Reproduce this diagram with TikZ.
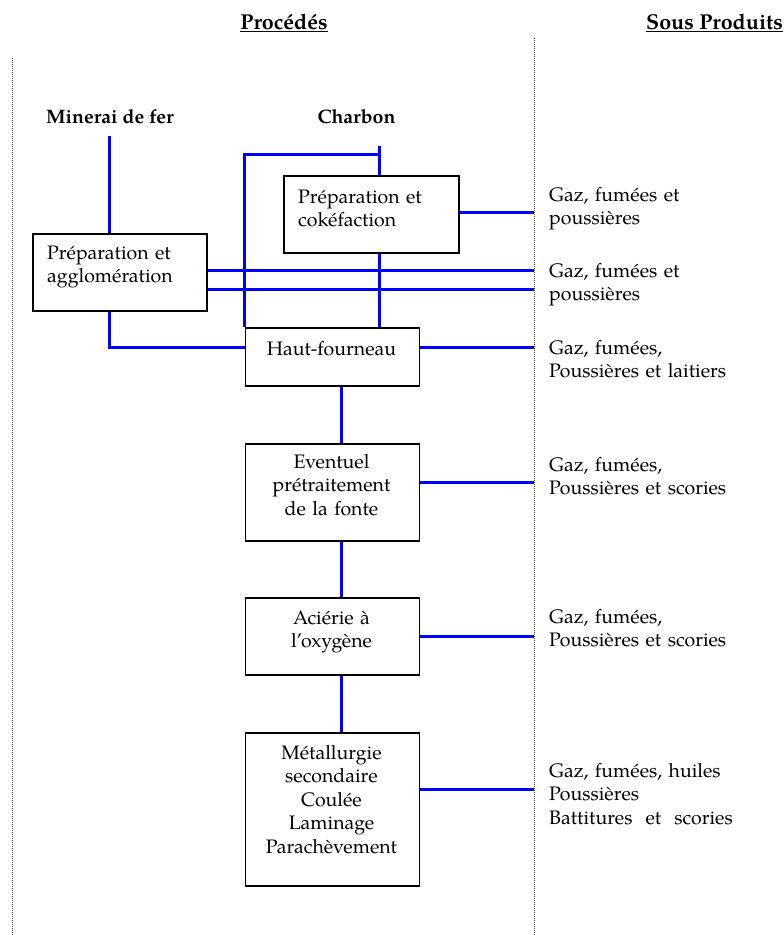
\documentclass[tikz,border=0pt]{standalone}
\usepackage{fontspec}
\setmainfont{TeX Gyre Pagella}
\newcommand\fs{\fontsize{19.5}{23.6}\selectfont}
\newcommand\ft{\fontsize{21.5}{25}\selectfont}
\begin{document}
\begin{tikzpicture}[x=1pt,y=-1pt,
  box/.style={draw=black,line width=1.5pt,anchor=north west,inner sep=0pt},
  link/.style={draw=blue,line width=3pt},
  sep/.style={draw=black!75,line width=0.8pt,dash pattern=on 0.8pt off 1.2pt},
  ctxt/.style={font=\fs,inner sep=0pt,anchor=base,text width=173,align=center},
  ltxt/.style={font=\fs,inner sep=0pt,anchor=base west,text width=150,align=left},
  side/.style={font=\fs,inner sep=0pt,anchor=base west,text width=232,align=left},
  title/.style={font=\ft\bfseries,inner sep=0pt,anchor=base},
  input/.style={font=\fs\bfseries,inner sep=0pt,anchor=base}]
\useasboundingbox (0,0) rectangle (784,935);
% titles
\node[title] (t1) at (284,29) {\underline{Procédés}};
\node[title] (t2) at (714.5,29) {\underline{Sous Produits}};
% separators
\coordinate (l1) at (12,58); \coordinate (l2) at (12,935);
\coordinate (s1) at (534,38); \coordinate (s2) at (534,935);
\draw[sep] (l1) -- (l2);
\draw[sep] (s1) -- (s2);
% inputs
\node[input] (minerai) at (110,123) {Minerai de fer};
\node[input] (charbon) at (356.5,123) {Charbon};
% boxes
\node[box,minimum width=174,minimum height=77] (agglo) at (32,233) {};
\node[box,minimum width=175,minimum height=77] (coke) at (283,175) {};
\node[box,minimum width=174,minimum height=58] (haut) at (244.5,327) {};
\node[box,minimum width=174,minimum height=97] (event) at (244.5,443) {};
\node[box,minimum width=174,minimum height=77] (acier) at (244.5,597) {};
\node[box,minimum width=174,minimum height=153] (metal) at (244.5,732) {};
% box texts
\node[ltxt] (aggloT) at (47,259) {Préparation et\\agglomération};
\node[ltxt] (cokeT) at (298,203) {Préparation et\\cokéfaction};
\node[ctxt] (hautT) at (331.5,355) {Haut-fourneau};
\node[ctxt] (eventT) at (331.5,468) {Eventuel\\prétraitement\\de la fonte};
\node[ctxt] (acierT) at (331.5,624) {Aciérie à\\l’oxygène};
\node[ctxt] (metalT) at (331.5,759) {Métallurgie\\secondaire\\Coulée\\Laminage\\Parachèvement};
% by-products
\node[side] (g1) at (549,201) {Gaz, fumées et\\poussières};
\node[side] (g2) at (549,277) {Gaz, fumées et\\poussières};
\node[side] (g3) at (549,354) {Gaz, fumées,\\Poussières et laitiers};
\node[side] (g4) at (549,471) {Gaz, fumées,\\Poussières et scories};
\node[side] (g5) at (549,623) {Gaz, fumées,\\Poussières et scories};
\node[side] (g6) at (549,777) {Gaz, fumées, huiles\\Poussières\\Battitures\ \ et\ \ scories};
% helper coordinates
\coordinate (mtop) at (109,136);
\coordinate (ctop) at (379.5,146);
\coordinate (cjoin) at (379.5,154);
\coordinate (cleft) at (244.5,154);
\coordinate (vx) at (341,0);
\coordinate (r1) at (534,212);
\coordinate (r2a) at (534,270);
\coordinate (r2b) at (534,289);
\coordinate (r3) at (534,347);
\coordinate (r4) at (534,482);
\coordinate (r5) at (534,636);
\coordinate (r6) at (534,789);
% links
\draw[link] (mtop) -- (agglo.north -| mtop);
\draw[link] (ctop) -- (coke.north -| ctop);
\draw[link] (cjoin) -- (cleft) -- (haut.north west);
\draw[link] (coke.south -| ctop) -- (haut.north -| ctop);
\draw[link] (agglo.south -| mtop) -- (mtop |- r3) -- (haut.west |- r3);
\draw[link] (coke.east |- r1) -- (r1);
\draw[link] (agglo.east |- r2a) -- (r2a);
\draw[link] (agglo.east |- r2b) -- (r2b);
\draw[link] (haut.east |- r3) -- (r3);
\draw[link] (event.east |- r4) -- (r4);
\draw[link] (acier.east |- r5) -- (r5);
\draw[link] (metal.east |- r6) -- (r6);
\draw[link] (haut.south -| vx) -- (event.north -| vx);
\draw[link] (event.south -| vx) -- (acier.north -| vx);
\draw[link] (acier.south -| vx) -- (metal.north -| vx);
\end{tikzpicture}
\end{document}
